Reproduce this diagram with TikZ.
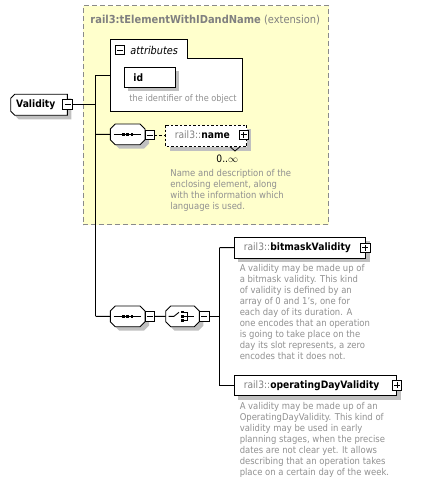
\documentclass[tikz,border=0pt]{standalone}
\usepackage{fontspec}
\setmainfont{DejaVu Sans}[FakeStretch=0.9]
\usetikzlibrary{shadows}
\definecolor{yel}{HTML}{FFFFCC}
\definecolor{shd}{HTML}{C0C0C0}
\definecolor{txtg}{HTML}{808080}
\definecolor{descg}{HTML}{909090}
\definecolor{extb}{HTML}{8A8A8A}
\tikzset{
  shad/.style={drop shadow={shadow xshift=4pt,shadow yshift=-4pt,fill=shd,opacity=1}},
  elem/.style={draw,fill=white,shad,inner sep=0,outer sep=0,anchor=north west},
  pmb/.style={draw,fill=white,minimum width=9.5pt,minimum height=9.5pt,inner sep=0,outer sep=0,line width=0.8pt},
  conn/.style={line width=0.9pt},
  desc/.style={anchor=north west,inner sep=0,align=left,text=descg,font=\fontsize{9.4}{11}\selectfont},
  ttl/.style={anchor=west,inner sep=0,font=\fontsize{10.2}{12}\selectfont},
  hid/.style={inner sep=0,outer sep=0,anchor=north west},
}
\newcommand\octshape[5]{% l,t,r,b,c
  \fill[shd] (#1+#5+4,#2+4) -- (#3-#5+4,#2+4) -- (#3+4,#2+#5+4) -- (#3+4,#4-#5+4) -- (#3-#5+4,#4+4) -- (#1+#5+4,#4+4) -- (#1+4,#4-#5+4) -- (#1+4,#2+#5+4) -- cycle;
  \filldraw[fill=white] (#1+#5,#2) -- (#3-#5,#2) -- (#3,#2+#5) -- (#3,#4-#5) -- (#3-#5,#4) -- (#1+#5,#4) -- (#1,#4-#5) -- (#1,#2+#5) -- cycle;
}
\newcommand\minusbox[3]{% name,x,y
  \node[pmb] (#1) at (#2,#3) {};
  \draw[line width=0.8pt] (#2-3,#3) -- (#2+3,#3);
}
\newcommand\plusbox[3]{% name,x,y
  \node[pmb] (#1) at (#2,#3) {};
  \draw[line width=0.8pt] (#2-3,#3) -- (#2+3,#3) (#2,#3-3) -- (#2,#3+3);
}
\newcommand\seqicon[2]{% cx, cy
  \draw[line width=0.9pt] (#1-14,#2) -- (#1+13,#2);
  \fill (#1-5.5,#2-1.3) rectangle +(2.6,2.6);
  \fill (#1-1.3,#2-1.3) rectangle +(2.6,2.6);
  \fill (#1+2.9,#2-1.3) rectangle +(2.6,2.6);
}
\begin{document}
\begin{tikzpicture}[x=1pt,y=-1pt,line width=0.9pt]
\useasboundingbox (0,0) rectangle (425,484);

% extension box
\node[draw=extb,dash pattern=on 5pt off 3pt,fill=yel,minimum width=245.3pt,minimum height=218.7pt,inner sep=0,anchor=north west,line width=1pt] (ext) at (82.7,5.3) {};
\node[ttl,text=txtg,font=\fontsize{11}{13}\selectfont] (exttitle) at (90,20) {\textbf{rail3:tElementWithIDandName} (extension)};

% attributes
\filldraw[fill=white] (110.3,39.3) -- (187.3,39.3) -- (187.3,58.7) -- (242.3,58.7) -- (242.3,111) -- (110.3,111) -- cycle;
\node[hid,minimum width=132pt,minimum height=71.7pt] (attr) at (110.3,39.3) {};
\minusbox{attrm}{120}{50}
\node[ttl,font=\fontsize{10.8}{13}\selectfont] (attrt) at (130,50) {\itshape attributes};
\node[elem,minimum width=51pt,minimum height=20pt] (id) at (124.3,67.3) {};
\node[ttl] (idt) at (133,77.3) {\bfseries id};
\node[ttl,text=descg,font=\fontsize{9.1}{11}\selectfont] (idd) at (129,99.3) {the identifier of the object};

% Validity
\fill[shd] (10.7+4+4,94.3+4) -- (67.3+4,94.3+4) -- (67.3+4,115.3+4) -- (10.7+4+4,115.3+4) -- (10.7+4,115.3-4+4) -- (10.7+4,94.3+4+4) -- cycle;
\filldraw[fill=white] (10.7+4,94.3) -- (67.3,94.3) -- (67.3,115.3) -- (10.7+4,115.3) -- (10.7,115.3-4) -- (10.7,94.3+4) -- cycle;
\node[hid,minimum width=56.6pt,minimum height=21pt] (val) at (10.7,94.3) {};
\node[ttl] (valt) at (15.7,104.3) {\bfseries Validity};
\minusbox{valm}{67.5}{104.3}

% sequence 1 and name
\octshape{110.3}{124}{145}{144.7}{5}
\node[hid,minimum width=34.7pt,minimum height=20.7pt] (seq1) at (110.3,124) {};
\seqicon{127.7}{134.3}
\minusbox{seq1m}{149.7}{135}
\fill[shd] (169.7,129) rectangle (250.7,150.7);
\filldraw[fill=white,dash pattern=on 2.5pt off 2pt] (165.7,125) rectangle (246.7,146.7);
\node[hid,minimum width=81pt,minimum height=21.7pt] (name) at (165.7,125) {};
\draw[line width=0.8pt] (230,146.7) -- (235,151) -- (240,146.7);
\node[ttl] (namet) at (174.3,134.7) {\textcolor{txtg}{rail3::}\textbf{name}};
\plusbox{namep}{243.7}{134.7}
\node[ttl,anchor=center] (namemult) at (227.3,158.7) {0..\(\infty\)};
\node[desc] (named) at (170,168.8) {Name and description of the\\enclosing element, along\\with the information which\\language is used.};

% sequence 2 and choice
\octshape{110.3}{306}{145}{326.7}{5}
\node[hid,minimum width=34.7pt,minimum height=20.7pt] (seq2) at (110.3,306) {};
\seqicon{127.7}{316.3}
\minusbox{seq2m}{149.7}{316.3}
\octshape{165.7}{306}{199.3}{326.7}{5}
\node[hid,minimum width=33.6pt,minimum height=20.7pt] (cho) at (165.7,306) {};
\draw[line width=0.9pt] (168.5,316.3) -- (174,316.3) -- (179,312.3);
\fill (181,310.8) rectangle +(2.5,2.5);
\fill (181,315) rectangle +(2.5,2.5);
\fill (181,319.2) rectangle +(2.5,2.5);
\draw[line width=0.9pt] (183.5,312) -- (187.5,312) -- (187.5,320.5) -- (183.5,320.5) (183.5,316.3) -- (194,316.3);
\minusbox{chom}{204.3}{316.3}

% bitmask
\node[elem,minimum width=131.4pt,minimum height=20.7pt] (bit) at (234.3,237.3) {};
\node[ttl] (bitt) at (243.3,248) {\textcolor{txtg}{rail3::}\textbf{bitmaskValidity}};
\plusbox{bitp}{365.3}{247.8}
\node[desc] (bitd) at (239.3,263.8) {A validity may be made up of\\a bitmask validity. This kind\\of validity is defined by an\\array of 0 and 1's, one for\\each day of its duration. A\\one encodes that an operation\\is going to take place on the\\day its slot represents, a zero\\encodes that it does not.};

% operating day
\node[elem,minimum width=162.4pt,minimum height=20pt] (op) at (234.3,375.7) {};
\node[ttl] (opt) at (243.3,385.7) {\textcolor{txtg}{rail3::}\textbf{operatingDayValidity}};
\plusbox{opp}{397}{385.4}
\node[desc] (opd) at (239.3,402.2) {A validity may be made up of an\\OperatingDayValidity. This kind of\\validity may be used in early\\planning stages, when the precise\\dates are not clear yet. It allows\\describing that an operation takes\\place on a certain day of the week.};

% connectors
\coordinate (j1) at (95.7,104.3);
\coordinate (jtop) at (95.7,75.3);
\coordinate (jname) at (95.7,134.3);
\coordinate (jbot) at (95.7,316.3);
\coordinate (k1) at (219.3,316.3);
\coordinate (ktop) at (219.3,247.7);
\coordinate (kbot) at (219.3,385.7);
\draw[conn] (valm.east) -- (j1);
\draw[conn] (jtop) -- (jbot);
\draw[conn] (jtop) -- (jtop -| attr.west);
\draw[conn] (jname) -- (seq1.west);
\draw[conn] (jbot) -- (seq2.west);
\draw[conn,dash pattern=on 3pt off 2pt] (seq1m.east) -- (seq1m.east -| name.west);
\draw[conn] (seq2m.east) -- (cho.west);
\draw[conn] (chom.east) -- (k1);
\draw[conn] (ktop) -- (kbot);
\draw[conn] (ktop) -- (bit.west);
\draw[conn] (kbot) -- (op.west);
\end{tikzpicture}
\end{document}
